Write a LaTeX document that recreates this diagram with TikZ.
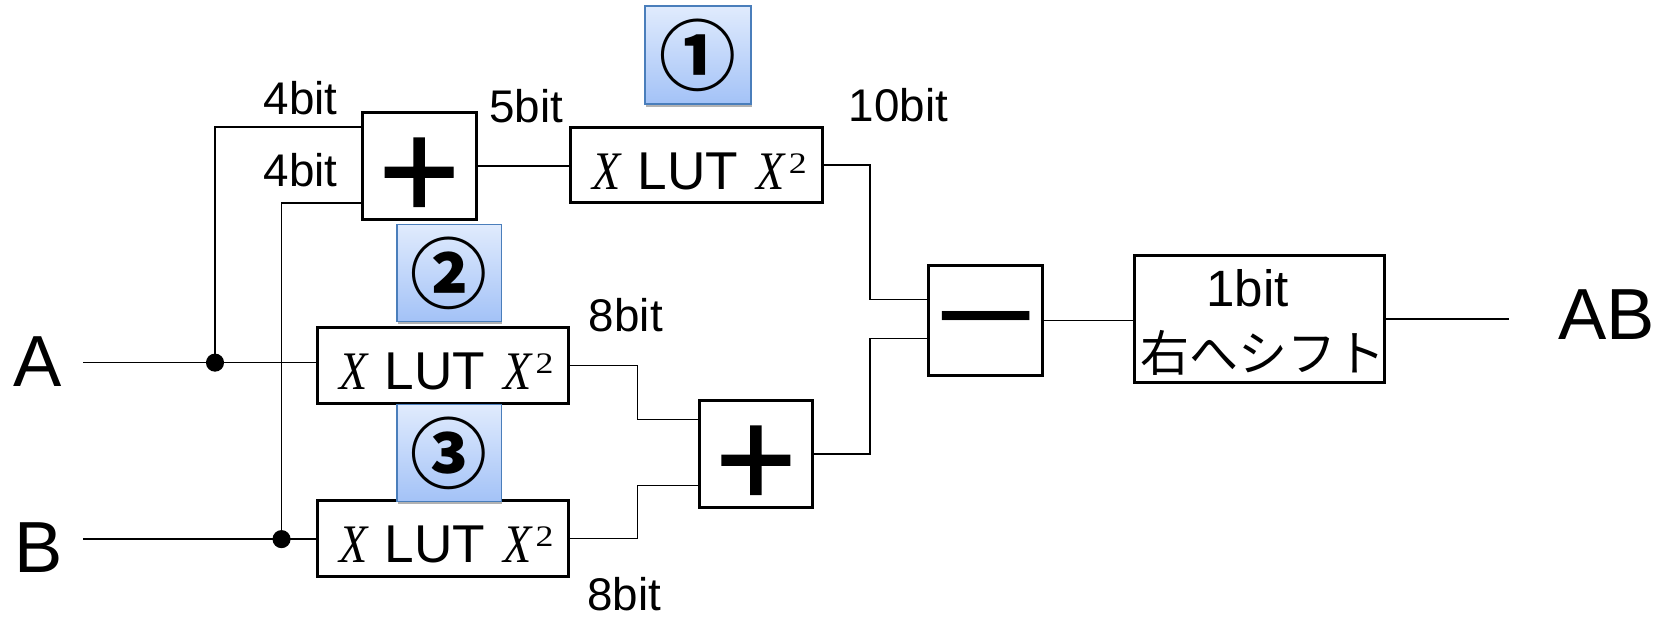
\documentclass[tikz,border=0pt]{standalone}
\usepackage{fontspec}
\usepackage{graphicx}
\setmainfont{Liberation Sans}
\newfontfamily\jpfont{Noto Sans CJK JP}
\newfontfamily\serifX{Liberation Serif}
\newfontfamily\opfont{Liberation Sans}[FakeBold=1]
\usetikzlibrary{shadows,calc}
\definecolor{badgetop}{HTML}{E0EBFD}
\definecolor{badgebot}{HTML}{A3C2F7}
\definecolor{badgeline}{HTML}{4A7EBB}
\newcommand{\lutX}{{\fontsize{51}{51}\selectfont\serifX\itshape\scalebox{0.85}[1]{X}}}
\newcommand{\lutlabel}{\hspace*{6pt}\lutX\hspace{16pt}LUT\hspace{17pt}\lutX\hspace{4pt}\raisebox{15pt}{\scalebox{1.2}[1]{\fontsize{28}{28}\selectfont\serifX 2}}}
\begin{document}
\begin{tikzpicture}[x=1pt,y=1pt,
  blk/.style={draw, line width=2.8pt, inner sep=0pt, fill=white},
  lut/.style={blk, minimum width=236pt, minimum height=71pt, text height=46pt, text depth=0pt, font=\fontsize{50}{50}\selectfont},
  opbox/.style={blk, minimum width=107pt, minimum height=101pt},
  plusbox/.style={opbox, text height=98.8pt, text depth=0pt, font=\fontsize{131}{131}\selectfont\opfont},
  wire/.style={line width=1.4pt},
  dot/.style={circle, fill=black, minimum size=17pt, inner sep=0pt},
  lbl/.style={inner sep=0pt, font=\fontsize{43}{43}\selectfont},
  io/.style={inner sep=0pt, font=\fontsize{68}{68}\selectfont},
  badge/.style={draw=badgeline, line width=1.3pt, top color=badgetop, bottom color=badgebot,
    minimum width=98pt, minimum height=91pt, inner sep=0pt,
    drop shadow={shadow xshift=0.5pt, shadow yshift=-2.5pt, opacity=0.3, fill=black},
    font=\fontsize{72}{72}\selectfont\jpfont\bfseries}
]
\useasboundingbox (0,0) rectangle (1568,583);

% blocks
\node[plusbox] (p1) at (393.8,427) {+};
\node[lut] (l1) at (654.3,427.8) {\lutlabel};
\node[lut] (l2) at (416.4,239.7) {\lutlabel};
\node[lut] (l3) at (416.4,77.3) {\lutlabel};
\node[plusbox] (p2) at (710.2,156.4) {+};
\node[opbox, minimum height=104pt, text height=71.6pt, text depth=0pt, font=\fontsize{120}{120}\selectfont] (mi) at (926.2,282) {\scalebox{1.41}[1]{−}};
\node[blk, minimum width=235pt, minimum height=119pt] (sh) at (1183.3,283.5) {};
\node[lbl, anchor=base, font=\fontsize{48}{48}\selectfont] (sht1) at (1172,295.5) {1bit};
\node[lbl, anchor=base, font=\fontsize{46}{46}\selectfont\jpfont] (sht2) at (1186.5,234) {右へシフト};

% inputs / outputs
\node[io] (A) at (35.3,243) {A};
\node[io] (B) at (36,69) {B};
\node[io] (AB) at (1509.4,287.5) {AB};

% bit labels
\node[lbl] (w4a) at (282.5,490.5) {4bit};
\node[lbl] (w4b) at (282.5,423.5) {4bit};
\node[lbl] (w5) at (494.5,483.5) {5bit};
\node[lbl] (w10) at (844,484) {10bit};
\node[lbl] (w8a) at (588,287) {8bit};
\node[lbl] (w8b) at (586.5,25) {8bit};

% coordinates
\coordinate (a0) at (78,242.3);
\coordinate (b0) at (78,76.5);
\coordinate (jx) at (817.5,0);
\coordinate (kx) at (599,0);
\coordinate (m1) at ($(mi.west)+(0,19.8)$);
\coordinate (m2) at ($(mi.west)+(0,-17)$);
\coordinate (p2a) at ($(p2.west)+(0,32.6)$);
\coordinate (p2b) at ($(p2.west)+(0,-29.7)$);
\coordinate (p1a) at ($(p1.west)+(0,36.7)$);
\coordinate (p1b) at ($(p1.west)+(0,-34.7)$);
\coordinate (o) at (1417.5,283.5);

% wires
\node[dot] (da) at (202,242.3) {};
\node[dot] (db) at (264.5,76.5) {};
\draw[wire] (a0) -- (l2.west |- a0);
\draw[wire] (b0) -- (l3.west |- b0);
\draw[wire] (da.center) |- (p1a);
\draw[wire] (db.center) |- (p1b);
\draw[wire] (p1.east) -- (l1.west |- p1.east);
\draw[wire] (l1.east) -| (jx |- m1) -- (m1);
\draw[wire] (p2.east) -| (jx |- m2) -- (m2);
\draw[wire] (l2.east) -| (kx |- p2a) -- (p2a);
\draw[wire] (l3.east) -| (kx |- p2b) -- (p2b);
\draw[wire] (mi.east) -- (mi.east -| sh.west);
\draw[wire] (sh.east) -- (o);

% badges
\node[badge, minimum width=99.5pt, minimum height=92pt] (c1) at (655.8,531.2) {①};
\node[badge] (c2) at (422,326.5) {②};
\node[badge] (c3) at (422,157.2) {③};
\end{tikzpicture}
\end{document}
